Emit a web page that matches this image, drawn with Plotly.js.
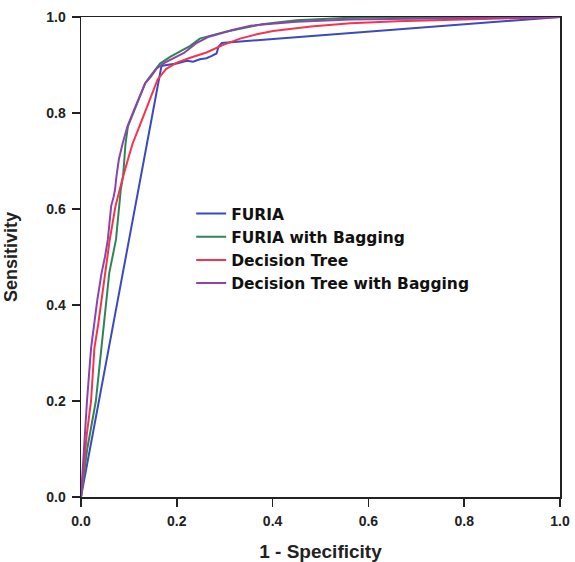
<!DOCTYPE html>
<html>
<head>
<meta charset="utf-8">
<script src="https://cdn.plot.ly/plotly-3.0.1.min.js"></script>
<style>html,body{margin:0;padding:0;background:#fff;}#chart{width:575px;height:562px;}</style>
</head>
<body>
<div id="chart"></div>
<script>
// Series names
const seriesNames = ["FURIA", "FURIA with Bagging", "Decision Tree", "Decision Tree with Bagging"];

// FURIA (1 - specificity, sensitivity)
const furiaX = [0, 0.168, 0.179, 0.200, 0.221, 0.234, 0.248, 0.262, 0.273, 0.283, 0.287, 0.294, 0.401, 1.0];
const furiaY = [0, 0.898, 0.900, 0.903, 0.909, 0.907, 0.912, 0.914, 0.919, 0.924, 0.938, 0.946, 0.954, 1.0];

// FURIA with Bagging
const furiaBagX = [0, 0.004, 0.013, 0.031, 0.042, 0.053, 0.059, 0.073, 0.080, 0.083, 0.088, 0.091, 0.093, 0.098, 0.112, 0.125, 0.134, 0.144, 0.154, 0.165, 0.186, 0.207, 0.228, 0.248, 0.276, 0.304, 0.340, 0.378, 0.450, 0.550, 0.650, 1.0];
const furiaBagY = [0, 0.030, 0.100, 0.200, 0.310, 0.410, 0.467, 0.536, 0.606, 0.640, 0.670, 0.703, 0.737, 0.772, 0.807, 0.841, 0.862, 0.876, 0.890, 0.903, 0.917, 0.928, 0.940, 0.955, 0.963, 0.970, 0.977, 0.985, 0.993, 0.998, 1.0, 1.0];

// Decision Tree
const treeX = [0, 0.005, 0.012, 0.021, 0.028, 0.036, 0.043, 0.050, 0.060, 0.072, 0.080, 0.088, 0.098, 0.108, 0.122, 0.135, 0.148, 0.160, 0.178, 0.200, 0.228, 0.262, 0.297, 0.332, 0.367, 0.401, 0.480, 0.5625, 0.660, 0.771, 0.880, 1.0];
const treeY = [0, 0.060, 0.130, 0.200, 0.310, 0.360, 0.410, 0.467, 0.536, 0.606, 0.640, 0.668, 0.703, 0.737, 0.772, 0.807, 0.841, 0.870, 0.892, 0.905, 0.915, 0.926, 0.942, 0.955, 0.964, 0.971, 0.980, 0.987, 0.991, 0.994, 0.997, 1.0];

// Decision Tree with Bagging
const treeBagX = [0, 0.003, 0.008, 0.0125, 0.021, 0.034, 0.043, 0.050, 0.056, 0.059, 0.063, 0.068, 0.071, 0.074, 0.079, 0.087, 0.097, 0.111, 0.125, 0.134, 0.146, 0.158, 0.175, 0.195, 0.215, 0.240, 0.267, 0.300, 0.316, 0.354, 0.400, 0.450, 0.5625, 0.771, 1.0];
const treeBagY = [0, 0.050, 0.120, 0.200, 0.310, 0.410, 0.467, 0.500, 0.536, 0.570, 0.606, 0.625, 0.640, 0.668, 0.703, 0.737, 0.772, 0.807, 0.841, 0.862, 0.876, 0.893, 0.905, 0.915, 0.925, 0.945, 0.959, 0.968, 0.973, 0.982, 0.986, 0.990, 0.995, 0.998, 1.0];

const tickVals = [0, 0.2, 0.4, 0.6, 0.8, 1.0];
const tickText = ["0.0", "0.2", "0.4", "0.6", "0.8", "1.0"];

const colors = ["#3a4bbf", "#2f8556", "#f5334f", "#8b45a8"];
const xs = [furiaX, furiaBagX, treeX, treeBagX];
const ys = [furiaY, furiaBagY, treeY, treeBagY];

const traces = seriesNames.map((n, i) => ({
  x: xs[i], y: ys[i], name: n, type: "scatter", mode: "lines",
  line: {color: colors[i], width: 2}
}));

const fontFam = "Liberation Sans, Arial, sans-serif";
const axisCommon = {
  range: [0, 1], tickvals: tickVals, ticktext: tickText,
  ticks: "outside", ticklen: 8, tickwidth: 1.5, tickcolor: "#222",
  ticklabelstandoff: 3,
  showline: true, linecolor: "#222", linewidth: 1.5, mirror: true,
  showgrid: false, zeroline: false, automargin: false,
  tickfont: {family: fontFam, size: 14, weight: "bold", color: "#222"}
};

const layout = {
  width: 575, height: 562,
  margin: {l: 81, r: 15, t: 17, b: 65},
  paper_bgcolor: "#fff", plot_bgcolor: "#fff",
  showlegend: true,
  legend: {x: 0.23, y: 0.625, xanchor: "left", yanchor: "top", bgcolor: "rgba(0,0,0,0)",
           font: {family: "DejaVu Sans, Verdana, sans-serif", size: 15.5, weight: "bold", color: "#111"}, tracegroupgap: 0},
  xaxis: Object.assign({}, axisCommon, {
    title: {text: "1 - Specificity", standoff: 23, font: {family: fontFam, size: 19, weight: "bold", color: "#222"}}
  }),
  yaxis: Object.assign({}, axisCommon, {
    title: {text: "Sensitivity", standoff: 24, font: {family: fontFam, size: 18, weight: "bold", color: "#222"}}
  })
};

Plotly.newPlot("chart", traces, layout, {displayModeBar: false, staticPlot: true});
</script>
</body>
</html>
